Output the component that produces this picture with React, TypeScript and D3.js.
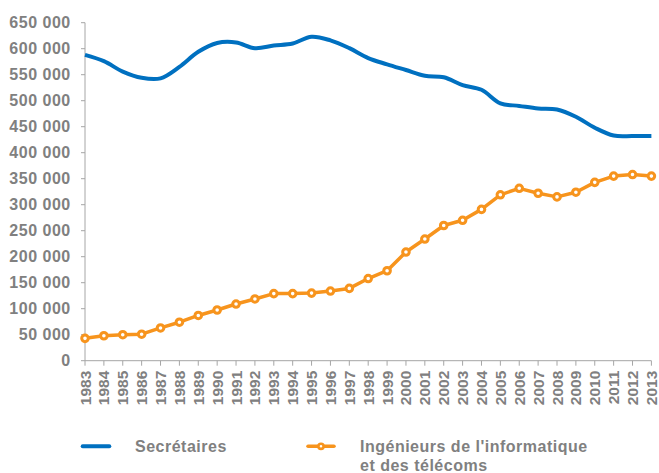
import React from "react";
import * as d3 from "d3";

const years = d3.range(1983, 2014).map(String);

const secretaires = [
  588000, 576000, 556000, 544000, 543000, 565000, 594000, 611000, 612000, 601000,
  606000, 610000, 623000, 616000, 601000, 582000, 570000, 559000, 548000, 545000,
  530000, 521000, 495000, 490000, 485000, 483000, 469000, 448000, 433000, 432000,
  432000,
];

const ingenieurs = [
  43000, 48000, 50000, 51000, 63000, 74000, 87000, 97500, 109000, 118700,
  129000, 129000, 130000, 134000, 139000, 158000, 173000, 209000, 234000, 260000,
  270000, 291000, 319000, 331500, 322000, 315000, 324000, 343000, 355000, 358000,
  355000,
];

const yTicks = d3.range(0, 650001, 50000);

const fmt = (v: number) => (v === 0 ? "0" : d3.format(",")(v).replace(/,/g, " "));

const App: React.FC = () => {
  const width = 659;
  const height = 473;
  const margin = { top: 22.7, left: 85, right: 7.6, bottom: 112.3 };

  const x = d3.scalePoint<string>()
    .domain(years)
    .range([margin.left, width - margin.right]);

  const y = d3.scaleLinear()
    .domain([0, 650000])
    .range([height - margin.bottom, margin.top]);

  const blue = "#0070C0";
  const orange = "#F7941D";
  const grey = "#808080";
  const axisGrey = "#A6A6A6";
  const font = "'Liberation Sans', Arial, sans-serif";

  const blueLine = d3.line<number>()
    .x((_, i) => x(years[i]) ?? 0)
    .y(d => y(d))
    .curve(d3.curveCatmullRom.alpha(0.5));

  const orangeLine = d3.line<number>()
    .x((_, i) => x(years[i]) ?? 0)
    .y(d => y(d));

  const y0 = y(0);

  return (
    <div style={{ position: "absolute", left: 0, top: 0 }}>
      <svg width={width} height={height} style={{ display: "block", fontFamily: font }}>
        {/* Axe Y */}
        <line x1={margin.left} x2={margin.left} y1={y(650000)} y2={y0} stroke={axisGrey} strokeWidth={1} />
        {yTicks.map(t => (
          <g key={t}>
            <line x1={margin.left - 4} x2={margin.left} y1={y(t)} y2={y(t)} stroke={axisGrey} />
            <text
              x={70.7}
              y={y(t)}
              textAnchor="end"
              dominantBaseline="central"
              fill={grey}
              fontWeight="bold"
              fontSize={16}
              letterSpacing={0.5}
            >
              {fmt(t)}
            </text>
          </g>
        ))}
        {/* Axe X */}
        <line x1={margin.left} x2={width - margin.right} y1={y0} y2={y0} stroke={axisGrey} />
        {years.map(yr => (
          <g key={yr}>
            <line x1={x(yr)} x2={x(yr)} y1={y0} y2={y0 + 5} stroke={axisGrey} />
            <text
              transform={`translate(${x(yr)},${y0 + 10}) rotate(-90)`}
              textAnchor="end"
              dominantBaseline="central"
              fill={grey}
              fontWeight="bold"
              fontSize={15.5}
            >
              {yr}
            </text>
          </g>
        ))}
        {/* Séries */}
        <path d={blueLine(secretaires) ?? ""} fill="none" stroke={blue} strokeWidth={4} strokeLinejoin="round" />
        <path d={orangeLine(ingenieurs) ?? ""} fill="none" stroke={orange} strokeWidth={3.5} strokeLinejoin="round" />
        {ingenieurs.map((v, i) => (
          <circle key={i} cx={x(years[i])} cy={y(v)} r={3.3} fill="#fff" stroke={orange} strokeWidth={3} />
        ))}
        {/* Légende */}
        <line x1={82.7} x2={109.3} y1={446.3} y2={446.3} stroke={blue} strokeWidth={4} strokeLinecap="round" />
        <text x={135} y={451.7} fill={grey} fontWeight="bold" fontSize={16} letterSpacing={0.5}>Secrétaires</text>
        <line x1={308} x2={334} y1={446.3} y2={446.3} stroke={orange} strokeWidth={3.5} strokeLinecap="round" />
        <circle cx={321} cy={446.3} r={2.6} fill="#fff" stroke={orange} strokeWidth={2.6} />
        <text x={360} y={451.7} fill={grey} fontWeight="bold" fontSize={16} letterSpacing={0.5}>
          Ingénieurs de l'informatique
        </text>
        <text x={360} y={470.5} fill={grey} fontWeight="bold" fontSize={16} letterSpacing={0.5}>
          et des télécoms
        </text>
      </svg>
    </div>
  );
};

export default App;
